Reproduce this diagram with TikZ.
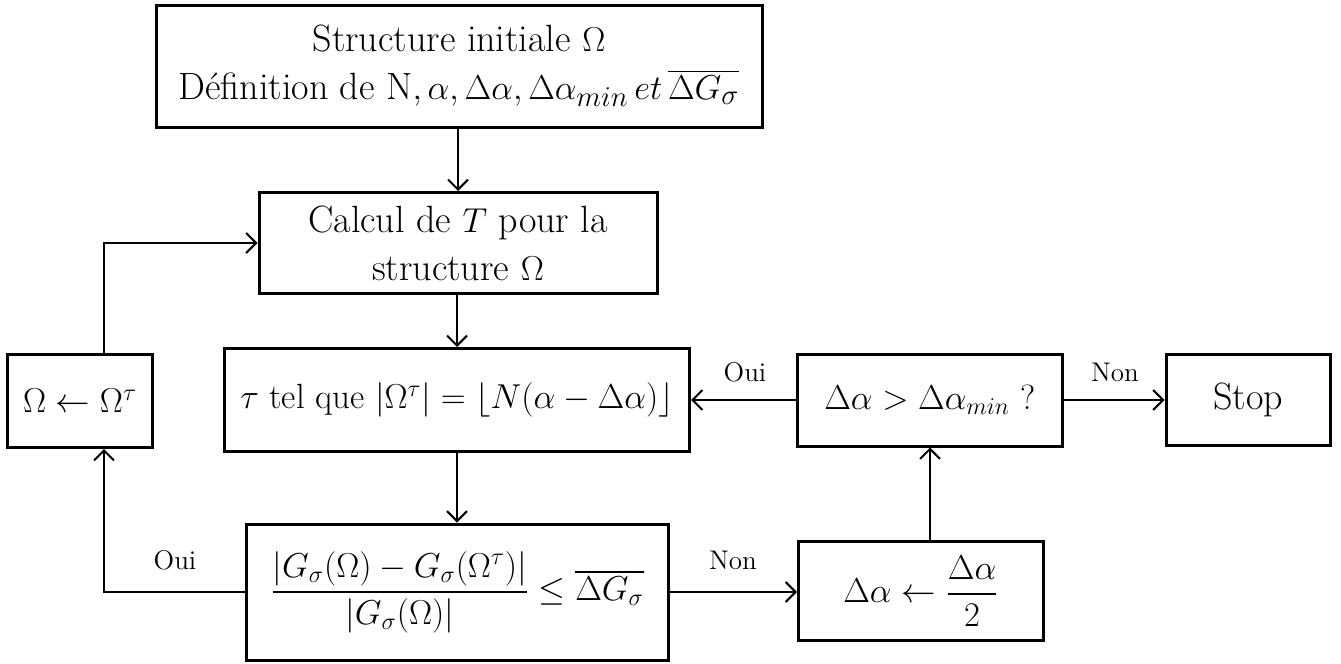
\documentclass[tikz,border=0pt]{standalone}
\usepackage{amsmath}
\usetikzlibrary{arrows.meta,calc}
\begin{document}
\begin{tikzpicture}[x=0.5pt,y=-0.5pt,
  box/.style={draw,line width=1.5pt,inner sep=0pt,align=center,font=\fontsize{17.5}{22}\selectfont},
  bigtxt/.style={font=\fontsize{19}{24}\selectfont},
  arr/.style={line width=1pt,-{Straight Barb[length=5pt,width=10pt,line width=1pt]}},
  lab/.style={font=\fontsize{13.5}{16}\selectfont,inner sep=0pt}]
\useasboundingbox (0,0) rectangle (1341,664);
\node[box,bigtxt,minimum width=303pt,minimum height=61pt] (top) at (459,66)
  {Structure initiale $\Omega$\\ Définition de N$,\alpha,\Delta\alpha,\Delta\alpha_{min}\,et\,\overline{\Delta G_\sigma}$};
\node[box,bigtxt,minimum width=199pt,minimum height=50.5pt] (calc) at (458,243)
  {Calcul de $T$ pour la\\ structure $\Omega$};
\node[box,minimum width=232.5pt,minimum height=51.5pt] (tau) at (457,400)
  {$\tau$ tel que $|\Omega^\tau| = \lfloor N(\alpha-\Delta\alpha)\rfloor$};
\node[box,minimum width=72.5pt,minimum height=46.5pt] (om) at (80,401)
  {$\Omega\leftarrow\Omega^\tau$};
\node[box,minimum width=211pt,minimum height=68pt] (dec) at (457,592)
  {$\dfrac{|G_\sigma(\Omega)-G_\sigma(\Omega^\tau)|}{|G_\sigma(\Omega)|}\le\overline{\Delta G_\sigma}$};
\node[box,minimum width=132.5pt,minimum height=46pt] (da) at (930,400)
  {$\Delta\alpha>\Delta\alpha_{min}$ ?};
\node[box,bigtxt,minimum width=82pt,minimum height=45.5pt] (stop) at (1248,400) {Stop};
\node[box,minimum width=122.5pt,minimum height=49.5pt] (dc) at (921,591)
  {$\Delta\alpha\leftarrow\dfrac{\Delta\alpha}{2}$};
\coordinate (lx) at (104,0);
\draw[arr] (top.south) -- (calc.south |- top.south) -- (calc.north);
\draw[arr] (calc.south) -- (calc.south -| tau.north) -- (tau.north);
\draw[arr] (tau.south) -- (dec.north);
\draw[arr] (dec.west) -| (lx |- om.south);
\draw[arr] (lx |- om.north) |- (calc.west);
\draw[arr] (dec.east) -- (dec.east -| dc.west);
\draw[arr] (da.south |- dc.north) -- (da.south);
\draw[arr] (da.west) -- (tau.east);
\draw[arr] (da.east) -- (stop.west);
\node[lab] (l1) at (175,560) {Oui};
\node[lab] (l2) at (733,560) {Non};
\node[lab] (l3) at (745,372) {Oui};
\node[lab] (l4) at (1115,372) {Non};
\end{tikzpicture}
\end{document}
